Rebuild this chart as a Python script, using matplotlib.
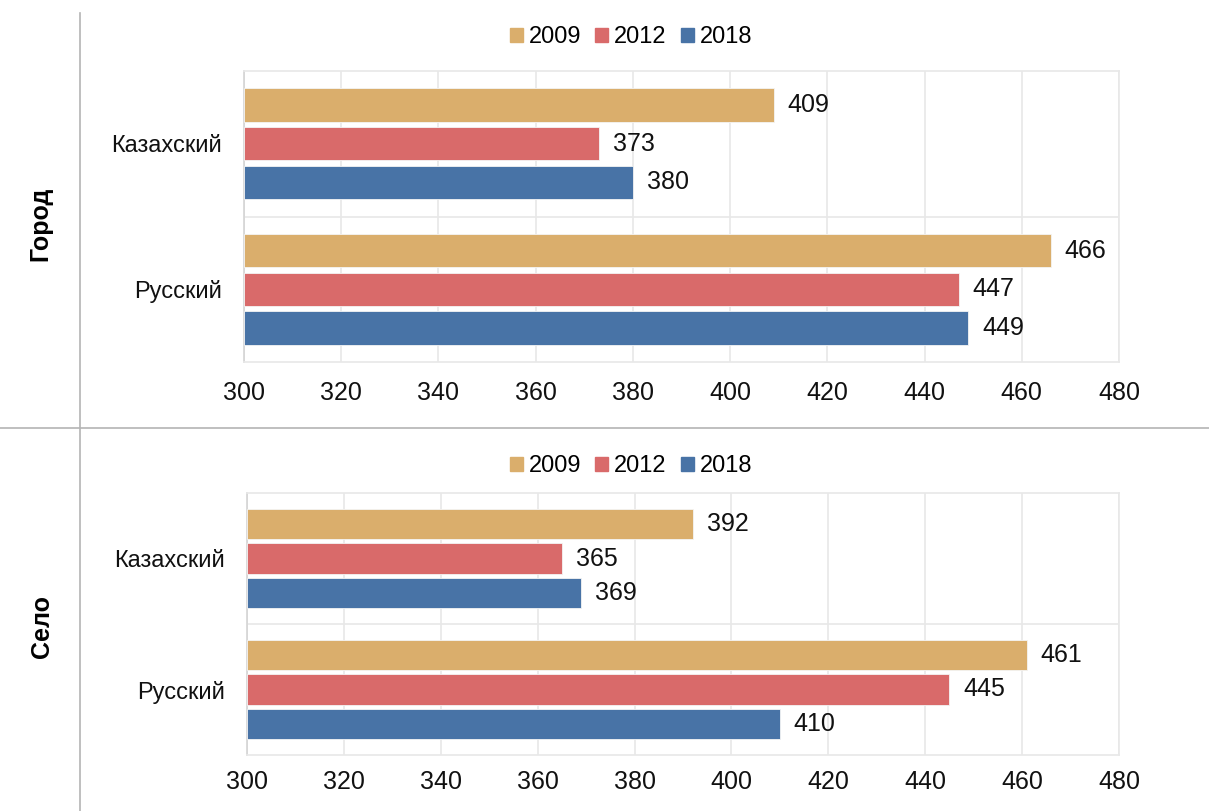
import numpy as np
import matplotlib
matplotlib.use("Agg")
import matplotlib.pyplot as plt
from matplotlib.lines import Line2D

plt.rcParams['font.family'] = ['Liberation Sans', 'DejaVu Sans']

# data
categories = ['Казахский', 'Русский']
years = ['2009', '2012', '2018']
colors = ['#DAAE6C', '#D96A6A', '#4873A6']

gorod_2009 = [409, 466]
gorod_2012 = [373, 447]
gorod_2018 = [380, 449]

selo_2009 = [392, 461]
selo_2012 = [365, 445]
selo_2018 = [369, 410]

W, H = 1209, 811
FS = 18
fig = plt.figure(figsize=(W / 100, H / 100), dpi=100)


def px_axes(left, top, right, bottom):
    return fig.add_axes([left / W, 1 - bottom / H, (right - left) / W, (bottom - top) / H])


def draw_panel(ax, series, tick_pad):
    y = np.arange(len(categories))
    offsets = [-0.266, 0.0, 0.266]
    for vals, off, col in zip(series, offsets, colors):
        ax.barh(y + off, np.array(vals) - 300, left=300, height=0.23,
                color=col, edgecolor='#f4f4f4', linewidth=0.6, zorder=3)
        for yy, v in zip(y + off, vals):
            ax.annotate(str(v), (v, yy), xytext=(10, 0), textcoords='offset points',
                        va='center', ha='left', fontsize=FS, color='#111111')
    ax.set_xlim(300, 480)
    ax.set_ylim(1.5, -0.5)
    ax.set_xticks(np.arange(300, 481, 20))
    ax.set_yticks(y)
    ax.set_yticklabels(categories)
    ax.set_yticks([0.5], minor=True)
    ax.tick_params(axis='x', length=0, labelsize=FS, pad=tick_pad, colors='#111111')
    ax.tick_params(axis='y', length=0, labelsize=17, pad=16, colors='#111111')
    ax.tick_params(axis='y', which='minor', length=0)
    ax.grid(axis='x', color='#e8e8e8', linewidth=1.2, zorder=0)
    ax.grid(axis='y', which='minor', color='#e8e8e8', linewidth=1.2, zorder=0)
    for s in ax.spines.values():
        s.set_color('#e8e8e8')
        s.set_linewidth(1.2)
    ax.spines['left'].set_color('#d4d4d4')


ax1 = px_axes(244, 71, 1119, 362)
draw_panel(ax1, [gorod_2009, gorod_2012, gorod_2018], 14)
ax2 = px_axes(247, 493, 1119, 755)
draw_panel(ax2, [selo_2009, selo_2012, selo_2018], 11)

handles = [plt.Rectangle((0, 0), 1, 1, color=c) for c in colors]
for yc in (37, 466):
    fig.legend(handles, years, loc='center', bbox_to_anchor=(631 / W, 1 - yc / H),
               ncol=3, frameon=False, fontsize=17, handlelength=0.55, handleheight=0.55,
               handletextpad=0.25, columnspacing=0.6)

fig.text(40 / W, 1 - 224 / H, 'Город', rotation=90, ha='center', va='center',
         fontsize=18, fontweight='bold')
fig.text(42 / W, 1 - 627 / H, 'Село', rotation=90, ha='center', va='center',
         fontsize=18, fontweight='bold')

fig.add_artist(Line2D([80 / W, 80 / W], [1 - 13 / H, 0], transform=fig.transFigure,
                      color='#b4b4b4', linewidth=1.2))
fig.add_artist(Line2D([0, 1], [1 - 428 / H, 1 - 428 / H], transform=fig.transFigure,
                      color='#b4b4b4', linewidth=1.2))

fig.savefig('out.png', dpi=100)
